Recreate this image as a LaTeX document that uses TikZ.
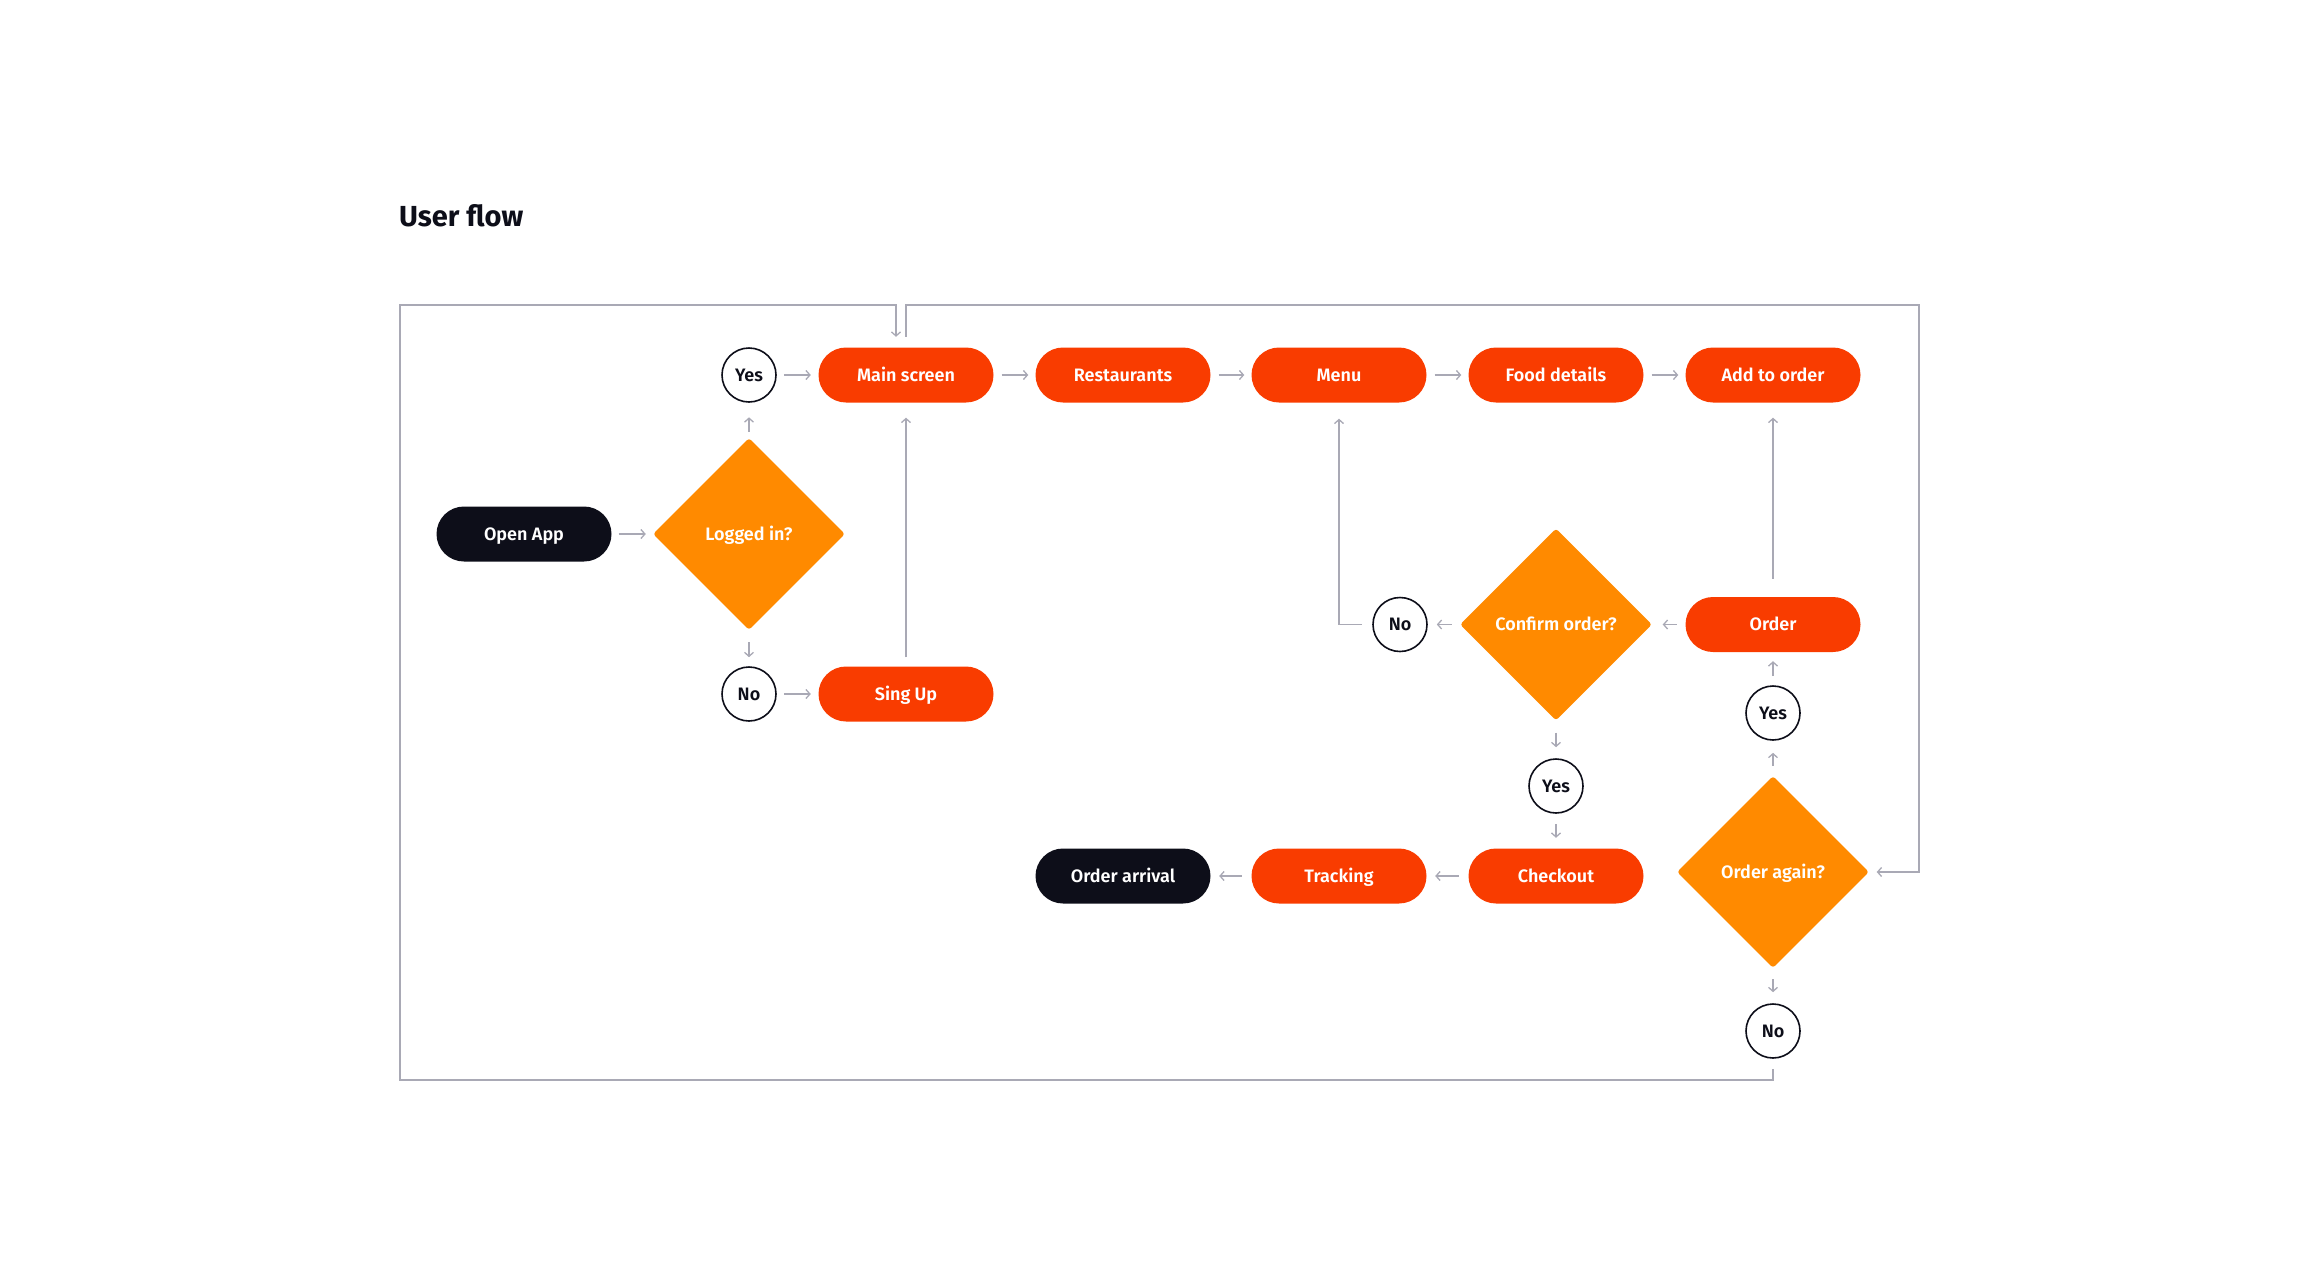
\documentclass[tikz,border=0pt]{standalone}
\usepackage{fontspec}
\setmainfont{Fira Sans}[BoldFont={Fira Sans SemiBold}]
\newfontfamily\heavyfont{Fira Sans Bold}
\usetikzlibrary{shapes.geometric,arrows.meta,calc}
\definecolor{pillred}{HTML}{F93C00}
\definecolor{decor}{HTML}{FF8A00}
\definecolor{inkdark}{HTML}{0D0E19}
\definecolor{linegray}{HTML}{A9A9B5}
\tikzset{
  pill/.style={rectangle, rounded corners=27.5pt, fill=pillred, text=white,
    minimum width=175pt, minimum height=55pt, inner sep=0pt,
    text height=12.5pt, text depth=0pt,
    font=\fontsize{18}{20}\selectfont\bfseries},
  darkpill/.style={pill, fill=inkdark},
  decision/.style={diamond, aspect=1, fill=decor, text=white,
    minimum width=192pt, minimum height=192pt, inner sep=0pt,
    text height=12.5pt, text depth=0pt,
    rounded corners=3pt, font=\fontsize{18}{20}\selectfont\bfseries},
  answer/.style={circle, draw=inkdark, line width=1.6pt, fill=white, text=inkdark,
    minimum size=54pt, inner sep=0pt, text height=12.5pt, text depth=0pt,
    font=\fontsize{18}{20}\selectfont\bfseries},
  conn/.style={draw=linegray, line width=1.4pt,
    -{Straight Barb[length=4pt,width=9pt,line width=1.3pt]}},
  gap/.style 2 args={shorten <=#1pt, shorten >=#2pt}
}
\begin{document}
\begin{tikzpicture}[x=1pt,y=-1pt]
\useasboundingbox (0,0) rectangle (2320,1280);
\node[anchor=base west, inner sep=0pt, text=inkdark, font=\fontsize{29}{32}\heavyfont] (title) at (399,226) {User flow};

% row 1
\node[answer] (yes1) at (749,375) {Yes};
\node[pill] (main) at (906,375) {Main screen};
\node[pill] (rest) at (1123,375) {Restaurants};
\node[pill] (menu) at (1339,375) {Menu};
\node[pill] (food) at (1556,375) {Food details};
\node[pill] (add) at (1773,375) {Add to order};

% left part
\node[darkpill] (open) at (524,534) {Open App};
\node[decision] (logged) at (749,534) {Logged in?};
\node[answer] (no1) at (749,694) {No};
\node[pill] (sign) at (906,694) {Sing Up};

% right part
\node[decision] (confirm) at (1556,624.5) {Confirm order?};
\node[answer] (no2) at (1400,624.5) {No};
\node[pill] (order) at (1773,624.5) {Order};
\node[answer] (yes3) at (1773,713) {Yes};
\node[answer] (yes2) at (1556,786) {Yes};
\node[decision] (again) at (1773,872) {Order again?};
\node[answer] (no3) at (1773,1031) {No};

% bottom row
\node[pill] (check) at (1556,876) {Checkout};
\node[pill] (track) at (1339,876) {Tracking};
\node[darkpill] (arrival) at (1123,876) {Order arrival};

% loop corners
\coordinate (bl) at (400,1080);
\coordinate (tl) at (400,305);
\coordinate (tr) at (1919,305);

% connectors
\draw[conn, gap={7}{7}] (open) -- (logged);
\draw[conn, gap={6}{14.5}] (logged) -- (yes1);
\draw[conn, gap={12}{9}] (logged) -- (no1);
\draw[conn, gap={7}{7.5}] (yes1) -- (main);
\draw[conn, gap={7}{7.5}] (no1) -- (sign);
\draw[conn, gap={9}{15}] (sign) -- (main);
\draw[conn, gap={8}{7}] (main) -- (rest);
\draw[conn, gap={8}{7}] (rest) -- (menu);
\draw[conn, gap={8}{7}] (menu) -- (food);
\draw[conn, gap={8}{7}] (food) -- (add);
\draw[conn, gap={18}{15}] (order) -- (add);
\draw[conn, gap={8.5}{10.5}] (order) -- (confirm);
\draw[conn, gap={8}{9}] (confirm) -- (no2);
\draw[conn, gap={10}{16}] (no2.west) -- (menu.south |- no2.west) -- (menu.south);
\draw[conn, gap={12}{11}] (confirm) -- (yes2);
\draw[conn, gap={10}{10.5}] (yes2) -- (check);
\draw[conn, gap={9.5}{8.5}] (check) -- (track);
\draw[conn, gap={9.5}{8.5}] (track) -- (arrival);
\draw[conn, gap={10}{12}] (again) -- (yes3);
\draw[conn, gap={9}{9}] (yes3) -- (order);
\draw[conn, gap={11}{11}] (again) -- (no3);
\draw[conn, gap={10}{10.5}] (no3.south) -- (no3.south |- bl) -- (bl) -- (tl)
  -- ([xshift=-10pt]main.north |- tl) -- ([xshift=-10pt]main.north);
\draw[conn, gap={10.5}{7.5}] (main.north) -- (main.north |- tr) -- (tr)
  -- (tr |- again.east) -- (again.east);
\end{tikzpicture}
\end{document}
